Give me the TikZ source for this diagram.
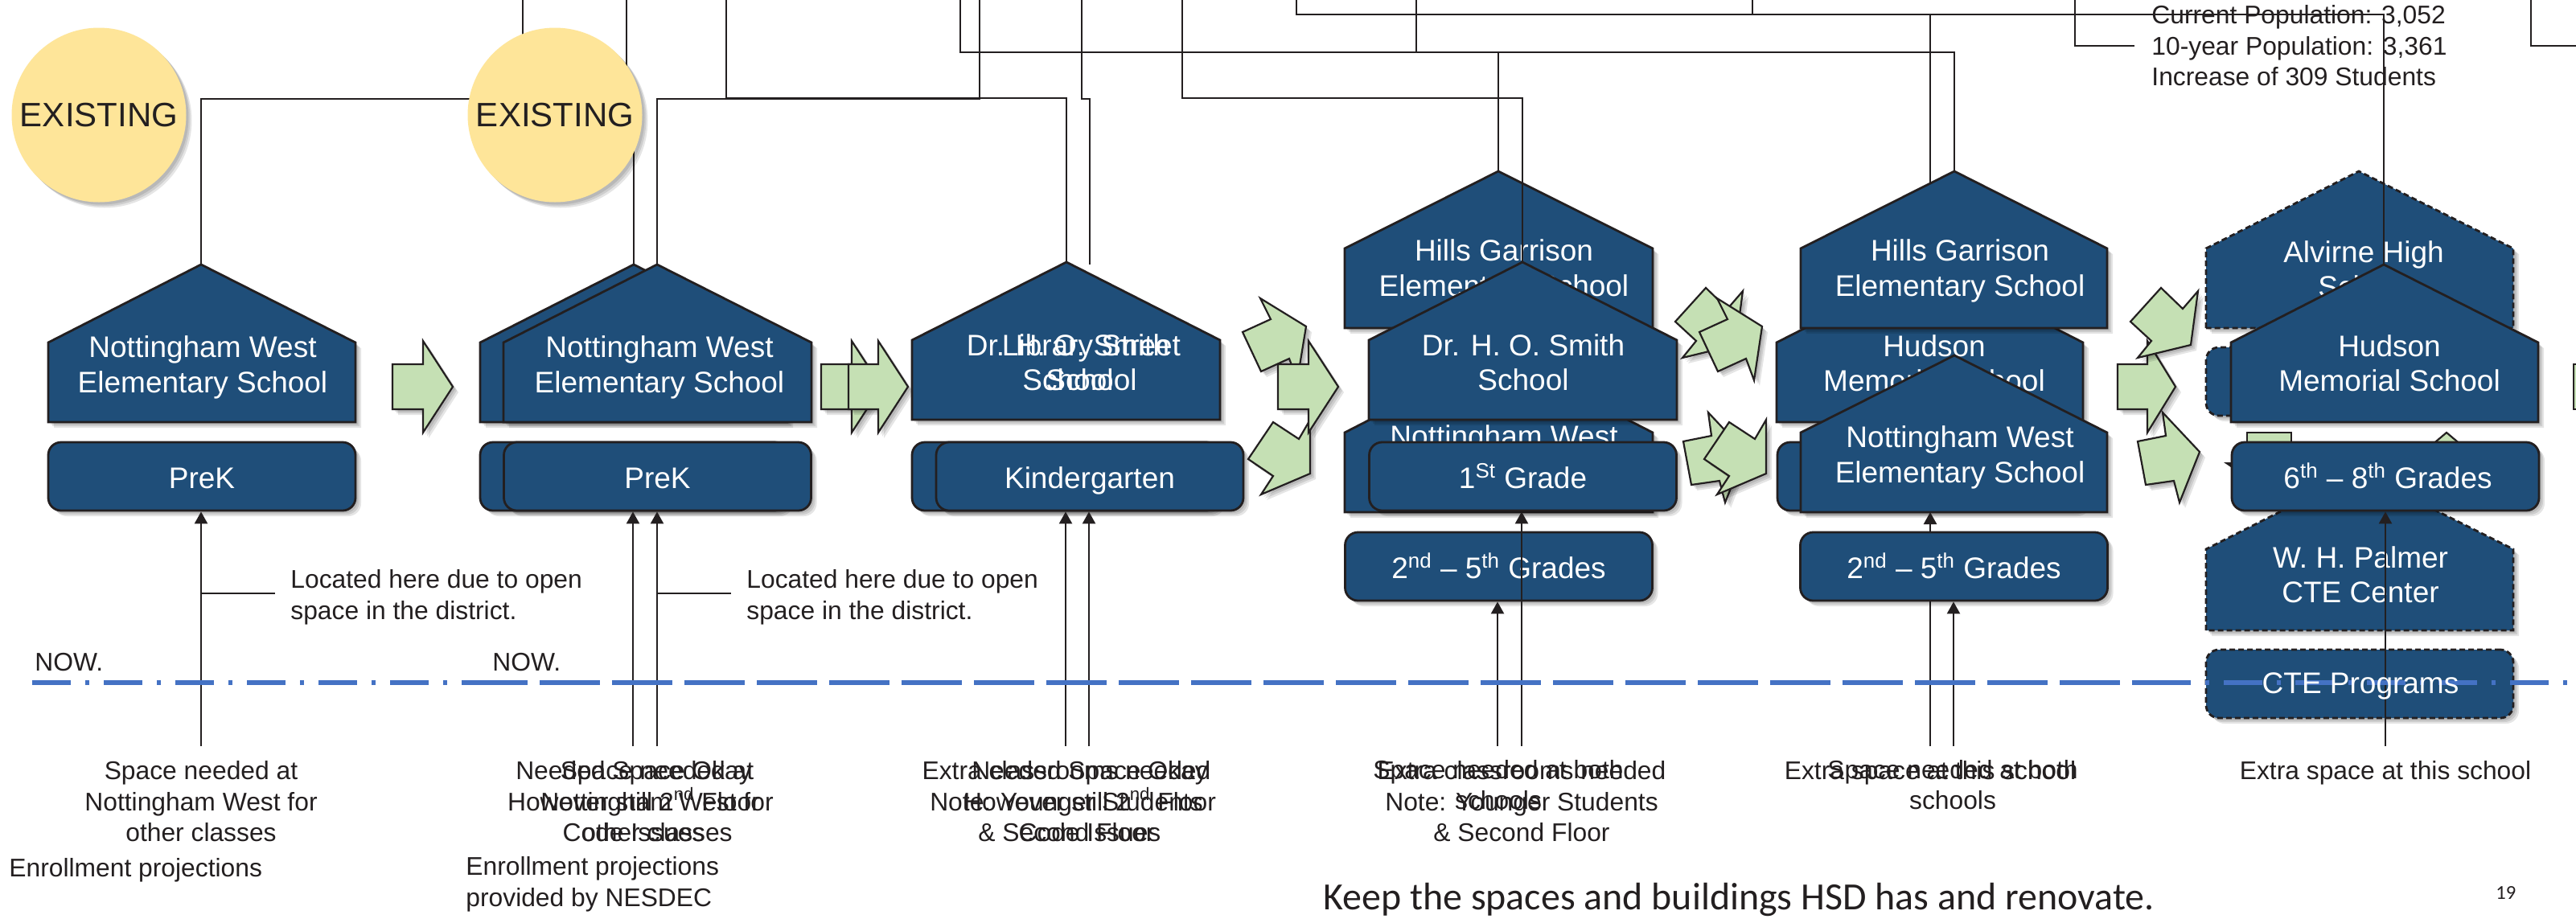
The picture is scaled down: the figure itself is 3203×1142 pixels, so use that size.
\documentclass[tikz,border=0pt]{standalone}
\usepackage{fontspec}
\setmainfont{Liberation Sans}
\newfontfamily\calib{Carlito}
\usetikzlibrary{arrows.meta,shadows}
\definecolor{hblue}{HTML}{1F4E79}
\definecolor{hgreen}{HTML}{C5E0B4}
\definecolor{hyellow}{HTML}{FEE599}
\definecolor{hline}{HTML}{231F20}
\definecolor{hdash}{HTML}{4472C4}
\tikzset{
  softshadow/.style={
    general shadow={fill=black,fill opacity=.10,shadow xshift=1.5pt,shadow yshift=-1.5pt},
    general shadow={fill=black,fill opacity=.10,shadow xshift=2.5pt,shadow yshift=-2.5pt},
    general shadow={fill=black,fill opacity=.10,shadow xshift=3.5pt,shadow yshift=-3.5pt}},
  conn/.style={draw=hline,line width=1.2pt},
  arr/.style={conn,-{Triangle[length=7.5pt,width=8pt]}},
  housesolid/.style={draw=hline,line width=1.4pt,fill=hblue,line join=miter,softshadow},
  housedash/.style={housesolid,dash pattern=on 3.5pt off 2pt},
  gradebox/.style={draw=hline,line width=1.4pt,fill=hblue,rounded corners=8pt,softshadow,
    minimum width=191pt,minimum height=42.5pt,inner sep=0pt,text=white,font=\hfont,
    text height=18pt,text depth=3.5pt},
  dashbox/.style={gradebox,dash pattern=on 3.5pt off 2pt},
  wt/.style={text=white,font=\hfont,align=center,inner sep=0pt},
  bt/.style={text=hline,font=\bfont,align=center,inner sep=0pt},
  bl/.style={bt,align=left,anchor=west},
  existing/.style={circle,fill=hyellow,minimum size=108.5pt,inner sep=0pt,softshadow,
    text=hline,font=\fontsize{21}{24}\selectfont},
  greenarrow/.style={draw=hline,line width=1.1pt,fill=hgreen,line join=miter,softshadow},
  dashdot/.style={draw=hdash,line width=2.75pt,dash pattern=on 24pt off 9pt on 2.5pt off 9pt},
  longdash/.style={draw=hdash,line width=2.75pt,dash pattern=on 37.5pt off 7.5pt},
}
\newcommand{\hfont}{\fontsize{18.5}{21.7}\selectfont}
\newcommand{\bfont}{\fontsize{15.9}{19.25}\selectfont}
% name, xl, xc, xr, ytop, yshoulder, ybottom, style
\newcommand{\house}[8]{%
  \coordinate (#1-top) at (#3,#5);
  \path[#8] (#2,#7) -- (#2,#6) -- (#3,#5) -- (#4,#6) -- (#4,#7) -- cycle;}
\begin{document}
\begin{tikzpicture}[x=0.5pt,y=-0.5pt]
\useasboundingbox (0,0) rectangle (3203,1142);
\fill[white] (0,0) rectangle (3203,1142);
% free ends along the top edge
\coordinate (t1) at (650,0);
\coordinate (t2) at (779,0);
\coordinate (t3) at (1218,0);
\coordinate (t4) at (903,0);
\coordinate (t5) at (1345,0);
\coordinate (t6) at (1194,0);
\coordinate (t7) at (1470,0);
\coordinate (t8) at (1761,0);
\coordinate (t9) at (1612,0);
\coordinate (t10) at (2179,0);
\coordinate (t11) at (2580,0);
\coordinate (t12) at (3147,0);
\coordinate (e12) at (3203,57);
\coordinate (e11) at (2654,57);
% free ends along the bottom
\foreach \n/\x in {b1/250,b2/787,b3/817,b4/1325,b5/1354,b6/1862,b7/1892,b8/2400,b9/2429,b10/2966}
  \coordinate (\n) at (\x,928);
\coordinate (lib-top) at (1355,329);
\coordinate (loc1) at (342,738);
\coordinate (loc2) at (909,738);

% column 1
\house{h1}{60}{250}{442}{329}{426}{525}{housesolid}
\node[wt] (h1t) at (252,457) {Nottingham West\\Elementary School};
\node[gradebox] (g1) at (251,592.5) {PreK};
\draw[conn] (h1-top) -- ++(0,-206) -| (t1);
\draw[arr] (b1) -- (g1.south -| b1);
\draw[conn] (b1 |- loc1) -- (loc1);

% arrow 1
\draw[greenarrow] (488,453) -- (526,453) -- (526,424) -- (563,481) -- (526,538) -- (526,509) -- (488,509) -- cycle;

% column 2
\house{h2b}{597}{788}{979}{329}{426}{525}{housesolid}
\node[gradebox] (g2b) at (788,592.5) {};
\draw[conn] (h2b-top) -- ++(0,-206) -| (t2);
\node[existing] (ex1) at (123,143) {EXISTING};
\node[existing] (ex2) at (690,143) {EXISTING};
\house{h2}{626}{817}{1009}{329}{426}{525}{housesolid}
\node[wt] (h2t) at (820,457) {Nottingham West\\Elementary School};
\node[gradebox] (g2) at (817.5,592.5) {PreK};
\draw[conn] (h2-top) -- ++(0,-206) -| (t3);
\draw[arr] (b2) -- (g2.south -| b2);
\draw[arr] (b3) -- (g2.south -| b3);
\draw[conn] (b3 |- loc2) -- (loc2);

% double arrow
\draw[greenarrow] (1021,453) -- (1059,453) -- (1059,424) -- (1096,481) -- (1059,538) -- (1059,509) -- (1021,509) -- cycle;
\draw[greenarrow] (1055,453) -- (1092,453) -- (1092,424) -- (1129,481) -- (1092,538) -- (1092,509) -- (1055,509) -- cycle;

% column 3
\house{h3}{1134}{1326}{1517}{326}{423}{522}{housesolid}
\node[wt] (h3a) at (1328,451) {Dr. H. O. Smith\\School};
\node[wt] (h3b) at (1357,451) {Library Street\\School};
\node[gradebox] (g3b) at (1325,592.5) {};
\node[gradebox] (g3) at (1355,592.5) {Kindergarten};
\draw[conn] (h3-top) -- ++(0,-204) -| (t4);
\draw[conn] (lib-top) -- ++(0,-206) -| (t5);
\draw[arr] (b4) -- (g3.south -| b4);
\draw[arr] (b5) -- (g3.south -| b5);

% arrows to column 4
\draw[greenarrow] (1545,413) -- (1580,397) -- (1567,371) -- (1624,406) -- (1613,473) -- (1603,446) -- (1568,462) -- cycle;
\draw[greenarrow] (1552,571) -- (1583,592) -- (1568,615) -- (1629,589) -- (1629,522) -- (1615,546) -- (1583,525) -- cycle;
\draw[greenarrow] (1589,453) -- (1627,453) -- (1627,424) -- (1664,481) -- (1627,538) -- (1627,509) -- (1589,509) -- cycle;

% column 4
\house{h4a}{1672}{1863}{2055}{213}{309}{408}{housesolid}
\node[wt] (h4at) at (1870,337) {Hills Garrison\\Elementary School};
\draw[conn] (h4a-top) -- ++(0,-148) -| (t8);
\house{h4c}{1672}{1863}{2055}{440}{538}{637}{housesolid}
\node[wt] (h4ct) at (1870,568) {Nottingham West\\Elementary School};
\house{h4b}{1702}{1893}{2085}{326}{423}{522}{housesolid}
\node[wt] (h4bt) at (1894,451) {Dr. H. O. Smith\\School};
\draw[conn] (h4b-top) -- ++(0,-204) -| (t7);
\node[gradebox] (g4) at (1893.5,592.5) {1\textsuperscript{St} Grade};
\node[gradebox] (g4b) at (1863.5,704.5) {2\textsuperscript{nd} -- 5\textsuperscript{th} Grades};
\draw[arr] (b6) -- (g4b.south -| b6);
\draw[arr] (b7) -- (g4.south -| b7);

% arrows to column 5
\draw[greenarrow] (2121,358) -- (2083,400) -- (2109,424) -- (2092,445) -- (2158,429) -- (2167,362) -- (2148,384) -- cycle;
\draw[greenarrow] (2113,413) -- (2148,397) -- (2135,371) -- (2191,406) -- (2181,473) -- (2171,446) -- (2136,462) -- cycle;
\draw[greenarrow] (2124,513) -- (2170,562) -- (2145,625) -- (2138,598) -- (2103,603) -- (2093,549) -- (2128,542) -- cycle;
\draw[greenarrow] (2119,571) -- (2150,592) -- (2135,615) -- (2196,589) -- (2196,522) -- (2182,546) -- (2150,525) -- cycle;

% column 5
\house{h5b}{2209}{2400}{2590}{329}{426}{525}{housesolid}
\node[wt] (h5bt) at (2405,452) {Hudson\\Memorial School};
\draw[conn] (h5b-top) -- ++(0,-311) -| (t10);
\house{h5a}{2239}{2430}{2620}{213}{309}{408}{housesolid}
\node[wt] (h5at) at (2437,337) {Hills Garrison\\Elementary School};
\draw[conn] (h5a-top) -- ++(0,-148) -| (t6);
\node[gradebox] (g5b) at (2401,592.5) {};
\house{h5c}{2239}{2430}{2620}{442}{538}{637}{housesolid}
\node[wt] (h5ct) at (2437,569) {Nottingham West\\Elementary School};
\draw[arr] (b8) -- (2400,637);
\node[gradebox] (g5) at (2429.5,704.5) {2\textsuperscript{nd} -- 5\textsuperscript{th} Grades};
\draw[arr] (b9) -- (g5.south -| b9);

% arrows to column 6
\draw[greenarrow] (2633,453) -- (2670,453) -- (2670,424) -- (2705,481) -- (2670,538) -- (2670,509) -- (2633,509) -- cycle;
\draw[greenarrow] (2687,358) -- (2649,400) -- (2675,424) -- (2658,445) -- (2724,429) -- (2733,362) -- (2714,384) -- cycle;
\draw[greenarrow] (2689,513) -- (2735,562) -- (2710,625) -- (2703,598) -- (2668,603) -- (2658,549) -- (2693,542) -- cycle;

% column 6
\house{h6a}{2743}{2933}{3125}{213}{309}{408}{housedash}
\node[wt] (h6at) at (2939,335) {Alvirne High\\School};
\node[dashbox,minimum height=42.5pt] (g6b) at (2934,474.5) {};
\house{h6d}{2743}{2933}{3125}{587}{683}{784}{housedash}
\node[wt] (h6dt) at (2935,715) {W. H. Palmer\\CTE Center};
\path[draw=hline,line width=1.1pt,fill=hgreen] (2794,560) rectangle (2849,538);
\path[draw=hline,line width=1.1pt,fill=hgreen] (3010,565) -- (3042,538) -- (3074,565) -- cycle;
\path[fill=hline] (2765,575) -- (2790,575) -- (2790,592) -- cycle;
\house{h6b}{2774}{2964}{3156}{329}{426}{525}{housesolid}
\node[wt] (h6bt) at (2971,452) {Hudson\\Memorial School};
\draw[conn] (h6b-top) -- ++(0,-311) -| (t9);
\node[gradebox] (g6) at (2966,592.5) {\hspace*{3pt}6\textsuperscript{th} -- 8\textsuperscript{th} Grades};
\node[dashbox] (g6c) at (2934,850.5) {};
\draw[arr] (b10) -- (g6.south -| b10);

% timeline
\coordinate (d1) at (40,849);
\coordinate (d2) at (581,849);
\coordinate (d3) at (2721,849);
\coordinate (d4) at (2676,849);
\coordinate (d5) at (3203,849);
\path[dashdot] (d1) -- (d2);
\path[longdash] (d2) -- (d3);
\path[dashdot] (d4) -- (d5);
\node[wt] (g6ct) at (2935,853) {CTE Programs};

% off-slide end of the next arrow
\path[draw=hline,line width=1.1pt,fill=hgreen] (3200,453) rectangle (3210,509);

% notes
\node[bl] (n1) at (361,743) {Located here due to open\\space in the district.};
\node[bl] (n2) at (928,743) {Located here due to open\\space in the district.};
\node[bl] (now1) at (43,824) {NOW.};
\node[bl] (now2) at (612,824) {NOW.};
\node[bt] (s1) at (250,997) {Space needed at\\Nottingham West for\\other classes};
\node[bt] (s2a) at (788,997) {Needed Space Okay\\However still 2\textsuperscript{nd} Floor\\Code Issues};
\node[bt] (s2b) at (817,997) {Space needed at\\Nottingham West for\\other classes};
\node[bt] (s3a) at (1326,997) {Extra classrooms needed\\Note: Younger Students\\\& Second Floor};
\node[bt] (s3b) at (1355,997) {Needed Space Okay\\However still 2\textsuperscript{nd} Floor\\Code Issues};
\node[bt] (s4a) at (1863,976) {Space needed at both\\schools};
\node[bt] (s4b) at (1892,997) {Extra classrooms needed\\Note: Younger Students\\\& Second Floor};
\node[bt] (s5a) at (2400,961) {Extra space at this school};
\node[bt] (s5b) at (2428,976) {Space needed at both\\schools};
\node[bt] (s6) at (2966,961) {Extra space at this school};
\node[bl] (en1) at (11,1082) {Enrollment projections};
\node[bl] (en2) at (579,1100) {Enrollment projections\\provided by NESDEC};
\node[bl] (pop) at (2675,57) {Current Population: 3,052\\10-year Population: 3,361\\Increase of 309 Students};
\draw[conn] (e11) -| (t11);
\draw[conn] (e12) -| (t12);
\node[bl,font=\calib\fontsize{23.96}{28}\selectfont] (keep) at (1645,1119) {Keep the spaces and buildings HSD has and renovate.};
\node[bl,font=\calib\fontsize{12.3}{14}\selectfont] (pg) at (3103,1110) {19};
\end{tikzpicture}
\end{document}
